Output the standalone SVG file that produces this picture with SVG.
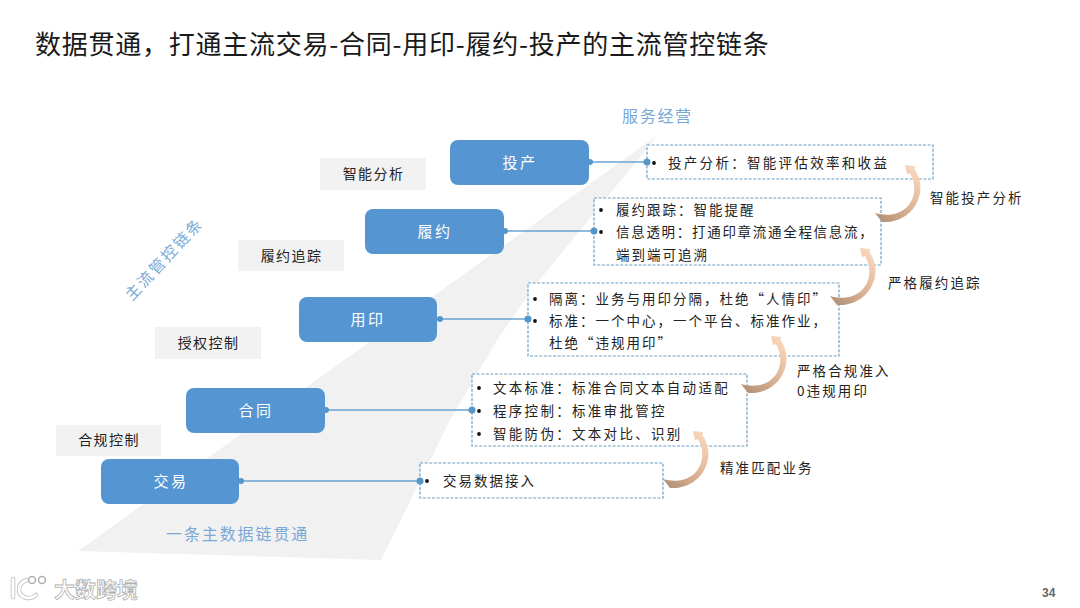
<svg xmlns="http://www.w3.org/2000/svg" xmlns:xlink="http://www.w3.org/1999/xlink" width="1080" height="608" viewBox="0 0 1080 608">
<style>
text{font-family:"Noto Sans CJK SC","Noto Sans",sans-serif;dominant-baseline:central}
.title{font-size:26px;letter-spacing:0.75px;fill:#1a1a1a}
.n{fill:#5596d2}
.nt{font-size:15px;letter-spacing:2.5px;fill:#fff;text-anchor:middle}
.box{fill:#fff;stroke:#6d9fc6;stroke-width:1.2;stroke-dasharray:3 1.6}
.t{font-size:13.5px;letter-spacing:2px;fill:#222}
.t2{letter-spacing:2.3px}
.g{fill:#f2f2f2}
.gt{font-size:14px;letter-spacing:1.4px;fill:#222;text-anchor:middle}
.s{font-size:13.5px;letter-spacing:2.1px;fill:#222}
.b{fill:#7aa9d6}
.d{fill:#5596c8}
.c{stroke:#6aa3d2;stroke-width:1.6;fill:none}
.bu{fill:#111}
</style>
<defs>
<linearGradient id="ag" gradientUnits="userSpaceOnUse" x1="-28" y1="52" x2="14" y2="8">
<stop offset="0" stop-color="#b39378"/><stop offset="0.45" stop-color="#dcb192"/><stop offset="1" stop-color="#f8d6bc"/>
</linearGradient>
<path id="arrow" fill="url(#ag)" d="M0,0 L10,1 L9.5,4 C15,12 18,24 13,35 C8,48 -5,58 -23,57 L-30,48 C-20,51 -6,51 3,41 C10,33 12,20 5,8 L2,9 Z"/>
</defs>
<rect width="1080" height="608" fill="#fff"/>
<polygon points="78,551 658,135 537,283 497,340 450,420 381,560" fill="#f1f1f1"/>
<text class="title" x="35" y="42">数据贯通，打通主流交易-合同-用印-履约-投产的主流管控链条</text>
<text class="b" x="622" y="115" font-size="16" letter-spacing="1.7">服务经营</text>
<text class="b" x="166" y="533" font-size="16" letter-spacing="1.9">一条主数据链贯通</text>
<text class="b" font-size="15.5" letter-spacing="2.2" text-anchor="middle" transform="translate(163,258) rotate(-47)">主流管控链条</text>

<g id="labels">
<g id="label-analysis"><rect class="g" x="320" y="158" width="106" height="32"/><text class="gt" x="373.500" y="173">智能分析</text></g>
<g id="label-trace"><rect class="g" x="238" y="240" width="106" height="31"/><text class="gt" x="291.500" y="255">履约追踪</text></g>
<g id="label-auth"><rect class="g" x="155" y="327" width="106" height="32"/><text class="gt" x="208.500" y="342">授权控制</text></g>
<g id="label-comp"><rect class="g" x="56" y="425" width="105" height="31"/><text class="gt" x="109" y="439">合规控制</text></g>
</g>

<g id="box-touchan"><rect class="box" x="647" y="145" width="286" height="34"/>
<circle class="bu" cx="654" cy="163" r="1.9"/><text class="t t2" x="668" y="162">投产分析：智能评估效率和收益</text></g>
<g id="box-lvyue"><rect class="box" x="594" y="198" width="287" height="67"/>
<circle class="bu" cx="601" cy="210" r="1.9"/><text class="t" x="616" y="209">履约跟踪：智能提醒</text>
<circle class="bu" cx="601" cy="232" r="1.9"/><text class="t" style="letter-spacing:1.7px" x="616" y="231">信息透明：打通印章流通全程信息流，</text>
<text class="t" x="616" y="254">端到端可追溯</text></g>
<g id="box-yongyin"><rect class="box" x="528" y="283" width="311" height="73"/>
<circle class="bu" cx="535" cy="299" r="1.9"/><text class="t" x="549" y="298">隔离：业务与用印分隔，杜绝“人情印”</text>
<circle class="bu" cx="535" cy="321" r="1.9"/><text class="t" x="549" y="320">标准：一个中心，一个平台、标准作业，</text>
<text class="t" x="549" y="342">杜绝“违规用印”</text></g>
<g id="box-hetong"><rect class="box" x="472" y="374" width="275" height="72"/>
<circle class="bu" cx="479" cy="388" r="1.9"/><text class="t t2" x="493" y="387">文本标准：标准合同文本自动适配</text>
<circle class="bu" cx="479" cy="411" r="1.9"/><text class="t t2" x="493" y="410">程序控制：标准审批管控</text>
<circle class="bu" cx="479" cy="434" r="1.9"/><text class="t t2" x="493" y="433">智能防伪：文本对比、识别</text></g>
<g id="box-jiaoyi"><rect class="box" x="420" y="463" width="243" height="35"/>
<circle class="bu" cx="427" cy="481" r="1.9"/><text class="t" x="443" y="480">交易数据接入</text></g>

<g id="connectors">
<line class="c" x1="589" y1="162" x2="647" y2="162"/><circle class="d" cx="590" cy="162" r="3"/><circle class="d" cx="647" cy="162" r="3.500"/>
<line class="c" x1="504" y1="231" x2="594" y2="231"/><circle class="d" cx="505" cy="231" r="3"/><circle class="d" cx="594" cy="231" r="3.500"/>
<line class="c" x1="437" y1="319" x2="528" y2="319"/><circle class="d" cx="440" cy="319" r="3"/><circle class="d" cx="528" cy="319" r="3.500"/>
<line class="c" x1="325" y1="410" x2="472" y2="410"/><circle class="d" cx="326" cy="410" r="3"/><circle class="d" cx="472" cy="410" r="3.500"/>
<line class="c" x1="239" y1="481" x2="420" y2="481"/><circle class="d" cx="241" cy="481" r="3"/><circle class="d" cx="420" cy="481" r="3.500"/>
<use xlink:href="#arrow" href="#arrow" x="905" y="165"/>
<use xlink:href="#arrow" href="#arrow" x="860" y="248"/>
<use xlink:href="#arrow" href="#arrow" x="771" y="336"/>
<use xlink:href="#arrow" href="#arrow" x="693" y="431"/>
</g>

<g id="node-touchan"><rect class="n" x="450" y="140" width="139" height="45" rx="8"/><text class="nt" x="520" y="161">投产</text></g>
<g id="node-lvyue"><rect class="n" x="365" y="209" width="139" height="45" rx="8"/><text class="nt" x="435" y="230">履约</text></g>
<g id="node-yongyin"><rect class="n" x="299" y="297" width="138" height="45" rx="8"/><text class="nt" x="368" y="318">用印</text></g>
<g id="node-hetong"><rect class="n" x="186" y="388" width="139" height="45" rx="8"/><text class="nt" x="256" y="409">合同</text></g>
<g id="node-jiaoyi"><rect class="n" x="101" y="459" width="138" height="45" rx="8"/><text class="nt" x="171" y="480">交易</text></g>

<text class="s" x="930" y="197">智能投产分析</text>
<text class="s" x="888" y="282">严格履约追踪</text>
<text class="s" x="797" y="370">严格合规准入</text>
<text class="s" x="797" y="390">0违规用印</text>
<text class="s" x="720" y="467">精准匹配业务</text>

<g id="watermark">
<g fill="none" stroke="#b8b8b8" stroke-width="4.500" stroke-linecap="round">
<path d="M13,579 L13,597"/>
<path d="M27,580 C17,583 17,594 24,597 C28,599 33,598 36,595"/>
</g>
<g fill="none" stroke="#fff" stroke-width="3" stroke-linecap="round">
<path d="M13,579 L13,597"/>
<path d="M27,580 C17,583 17,594 24,597 C28,599 33,598 36,595"/>
</g>
<circle cx="32" cy="580" r="3.500" fill="#fff" stroke="#b0b0b0" stroke-width="1.500"/>
<circle cx="42" cy="580" r="3.500" fill="#fff" stroke="#b0b0b0" stroke-width="1.500"/>
<text x="54" y="588" font-size="21" font-weight="700" fill="#fff" stroke="#b0b0b0" stroke-width="0.8">大数跨境</text>
</g>
<text x="1042" y="593" font-size="12" font-weight="700" fill="#666" style="font-family:'Liberation Sans',sans-serif">34</text>
</svg>
